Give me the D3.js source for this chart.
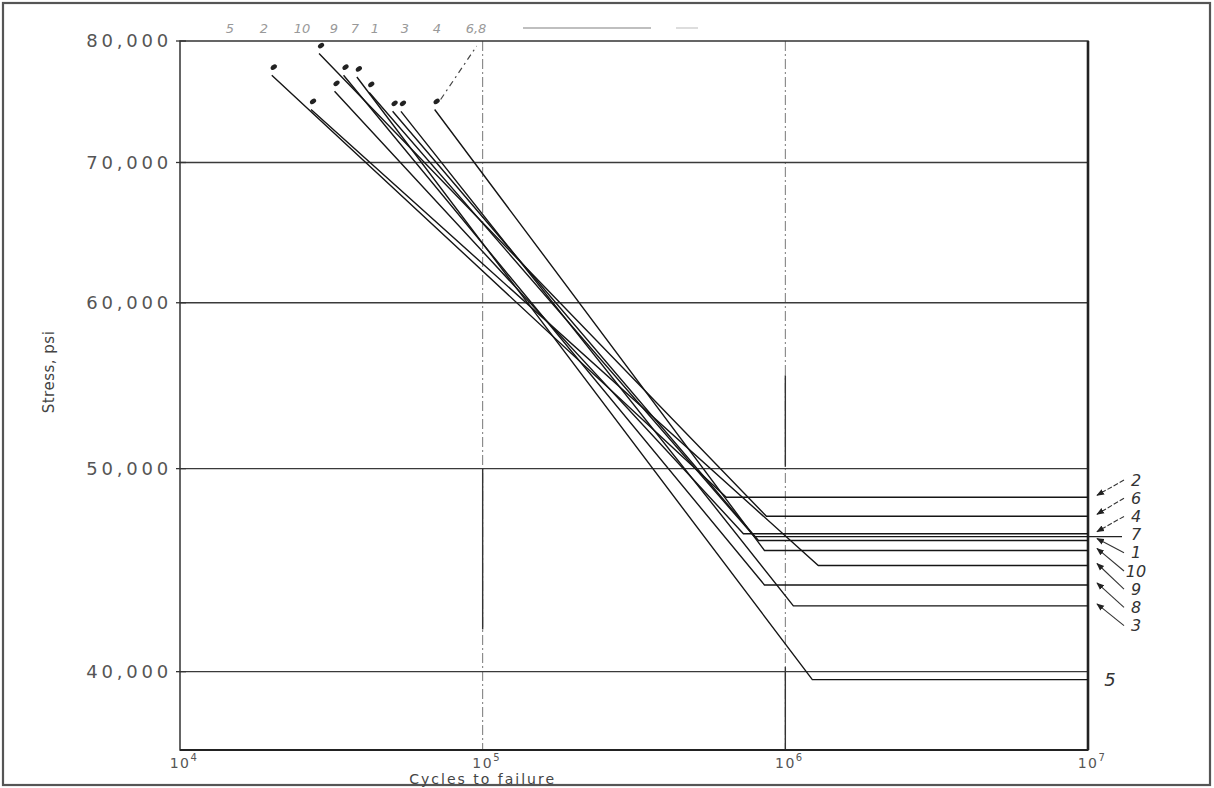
<!DOCTYPE html>
<html>
<head>
<meta charset="utf-8">
<script src="https://cdn.jsdelivr.net/npm/d3@7"></script>
<style>
  body { margin: 0; background: #fff; }
  text { font-family: "DejaVu Sans", sans-serif; }
</style>
</head>
<body>
<svg id="chart" width="1214" height="788"></svg>
<script>
// S-N curves, specimens 1..10 (log-log)
const curveIds        = [1, 2, 3, 4, 5, 6, 7, 8, 9, 10];
const startCycles     = [50400, 20100, 53700, 32400, 38400, 28800, 42200, 34700, 27100, 69400];
const startStress     = [74050, 77050, 74050, 75700, 76900, 78900, 75600, 77050, 74200, 74200];
const kneeCycles      = [815000, 638000, 1063000, 727000, 1228000, 866000, 790000, 853000, 1285000, 853000];
const enduranceStress = [46200, 48450, 43000, 46550, 39650, 47450, 46400, 44000, 44950, 45700];

const xTicks = [1e4, 1e5, 1e6, 1e7];
const yTicks = [80000, 70000, 60000, 50000, 40000];
const topLabels = ["5", "2", "10", "9", "7", "1", "3", "4", "6,8"];

// darker pieces of the vertical grid lines in the scan
const darkGridCycles = [1e5, 1e6, 1e6];
const darkGridFrom   = [50000, 55400, 40200];
const darkGridTo     = [41900, 50100, 36700];

const svg = d3.select("#chart");
const width = 1214, height = 788;

const x = d3.scaleLog().domain([1e4, 1e7]).range([180, 1088]);
const y = d3.scaleLog().domain([36700, 80000]).range([750, 41]);

// outer border
svg.append("rect")
    .attr("x", 3).attr("y", 3)
    .attr("width", width - 7).attr("height", height - 6)
    .attr("fill", "none")
    .attr("stroke", "#555")
    .attr("stroke-width", 2.2);

// vertical grid (dash-dot)
svg.selectAll(".vgrid")
    .data(xTicks.slice(1, -1))
    .enter()
    .append("line")
    .attr("class", "vgrid")
    .attr("x1", d => x(d)).attr("x2", d => x(d))
    .attr("y1", y(80000)).attr("y2", 750)
    .attr("stroke", "#777")
    .attr("stroke-width", 1)
    .attr("stroke-dasharray", "10,3,2,3");

svg.selectAll(".vdark")
    .data(darkGridCycles)
    .enter()
    .append("line")
    .attr("class", "vdark")
    .attr("x1", d => x(d)).attr("x2", d => x(d))
    .attr("y1", (d, i) => y(darkGridFrom[i]))
    .attr("y2", (d, i) => y(darkGridTo[i]))
    .attr("stroke", "#333")
    .attr("stroke-width", 1.4);

// horizontal grid
svg.selectAll(".hgrid")
    .data(yTicks.slice(1))
    .enter()
    .append("line")
    .attr("class", "hgrid")
    .attr("x1", x(1e4)).attr("x2", x(1e7))
    .attr("y1", d => y(d)).attr("y2", d => y(d))
    .attr("stroke", "#3a3a3a")
    .attr("stroke-width", 1.3);

// plot frame
svg.append("rect")
    .attr("x", x(1e4)).attr("y", y(80000))
    .attr("width", x(1e7) - x(1e4))
    .attr("height", 750 - y(80000))
    .attr("fill", "none")
    .attr("stroke", "#333")
    .attr("stroke-width", 1.5);
svg.append("line")
    .attr("x1", x(1e7)).attr("x2", x(1e7))
    .attr("y1", y(80000)).attr("y2", 750)
    .attr("stroke", "#222").attr("stroke-width", 2.6);
svg.append("line")
    .attr("x1", x(1e4)).attr("x2", x(1e7))
    .attr("y1", 750).attr("y2", 750)
    .attr("stroke", "#222").attr("stroke-width", 2);

// y ticks + labels
svg.selectAll(".ytick")
    .data(yTicks)
    .enter()
    .append("line")
    .attr("x1", x(1e4) - 4).attr("x2", x(1e4) + 6)
    .attr("y1", d => y(d)).attr("y2", d => y(d))
    .attr("stroke", "#333").attr("stroke-width", 1.3);

svg.selectAll(".ylab")
    .data(yTicks)
    .enter()
    .append("text")
    .attr("x", 172)
    .attr("y", d => y(d))
    .attr("dy", "0.36em")
    .attr("text-anchor", "end")
    .attr("font-size", 18)
    .attr("letter-spacing", "3.8px")
    .attr("fill", "#555")
    .text(d => d3.format(",")(d));

// x tick labels 10^n
const xl = svg.selectAll(".xlab")
    .data(xTicks)
    .enter()
    .append("text")
    .attr("x", d => x(d) + 4)
    .attr("y", 768)
    .attr("text-anchor", "middle")
    .attr("font-size", 14)
    .attr("letter-spacing", "1.5px")
    .attr("fill", "#555");
xl.append("tspan").text("10");
xl.append("tspan")
    .attr("dy", -7)
    .attr("font-size", 10)
    .text(d => Math.round(Math.log10(d)));

// axis titles
svg.append("text")
    .attr("x", x(1e5))
    .attr("y", 784)
    .attr("text-anchor", "middle")
    .attr("font-size", 14)
    .attr("letter-spacing", "2px")
    .attr("fill", "#444")
    .text("Cycles to failure");

svg.append("text")
    .attr("transform", "translate(54,372) rotate(-90)")
    .attr("text-anchor", "middle")
    .attr("font-size", 15)
    .attr("letter-spacing", "0.5px")
    .attr("fill", "#444")
    .text("Stress, psi");

// curves: start -> knee -> flat to 10^7
const curves = curveIds.map((id, i) => ({
    id: id,
    pts: [
        [startCycles[i], startStress[i]],
        [kneeCycles[i], enduranceStress[i]],
        [1e7, enduranceStress[i]]
    ]
}));

const line = d3.line()
    .x(d => x(d[0]))
    .y(d => y(d[1]));

svg.selectAll(".curve")
    .data(curves)
    .enter()
    .append("path")
    .attr("class", "curve")
    .attr("d", d => line(d.pts))
    .attr("fill", "none")
    .attr("stroke", "#151515")
    .attr("stroke-width", 1.4);

// start markers
svg.selectAll(".dot")
    .data(curves)
    .enter()
    .append("ellipse")
    .attr("cx", d => x(d.pts[0][0]) + 2)
    .attr("cy", d => y(d.pts[0][1]) - 8)
    .attr("rx", 3.4).attr("ry", 2.3)
    .attr("transform", d => `rotate(-35,${x(d.pts[0][0]) + 2},${y(d.pts[0][1]) - 8})`)
    .attr("fill", "#222");

// dashed leader from curve 10 marker up to the top row
const c10 = curves.find(c => c.id === 10);
svg.append("line")
    .attr("x1", x(c10.pts[0][0]) + 6).attr("y1", y(c10.pts[0][1]) - 10)
    .attr("x2", x(1e5) - 6).attr("y2", 46)
    .attr("stroke", "#444")
    .attr("stroke-width", 1.2)
    .attr("stroke-dasharray", "6,4,2,4");

// top row of faint hand labels
const topLabelX = [230, 264, 302, 334, 355, 375, 405, 437, 476];
svg.selectAll(".toplab")
    .data(topLabels)
    .enter()
    .append("text")
    .attr("x", (d, i) => topLabelX[i])
    .attr("y", 33)
    .attr("text-anchor", "middle")
    .attr("font-size", 13)
    .attr("font-style", "italic")
    .attr("fill", "#999")
    .text(d => d);
svg.append("line")
    .attr("x1", 523).attr("x2", 651).attr("y1", 28).attr("y2", 28)
    .attr("stroke", "#aaa").attr("stroke-width", 1.5);
svg.append("line")
    .attr("x1", 676).attr("x2", 698).attr("y1", 28).attr("y2", 28)
    .attr("stroke", "#bbb").attr("stroke-width", 1);

// right-hand labels with arrows
svg.append("defs").append("marker")
    .attr("id", "ah")
    .attr("viewBox", "0 0 10 10")
    .attr("refX", 9).attr("refY", 5)
    .attr("markerWidth", 7).attr("markerHeight", 7)
    .attr("orient", "auto")
    .append("path")
    .attr("d", "M0,1 L10,5 L0,9 Z")
    .attr("fill", "#222");

const rightSide = curves
    .filter(c => c.id !== 5)
    .sort((a, b) => b.pts[2][1] - a.pts[2][1]);

rightSide.forEach((c, i) => {
    const ly = 480 + i * 18.2;
    const lvl = y(c.pts[2][1]);
    if (c.id === 7) {
        svg.append("line")
            .attr("x1", x(1e7)).attr("x2", x(1e7) + 34)
            .attr("y1", lvl).attr("y2", lvl)
            .attr("stroke", "#222").attr("stroke-width", 1.3);
    } else {
        svg.append("line")
            .attr("x1", 1124).attr("y1", ly)
            .attr("x2", 1097).attr("y2", lvl - 2)
            .attr("stroke", "#333")
            .attr("stroke-width", 1.1)
            .attr("stroke-dasharray", i < 3 ? "5,2" : null)
            .attr("marker-end", "url(#ah)");
    }
    svg.append("text")
        .attr("x", 1136)
        .attr("y", ly)
        .attr("dy", "0.35em")
        .attr("text-anchor", "middle")
        .attr("font-size", 16)
        .attr("font-style", "italic")
        .attr("fill", "#333")
        .text(c.id);
});

const c5 = curves.find(c => c.id === 5);
svg.append("text")
    .attr("x", 1110)
    .attr("y", y(c5.pts[2][1]))
    .attr("dy", "0.35em")
    .attr("text-anchor", "middle")
    .attr("font-size", 18)
    .attr("font-style", "italic")
    .attr("fill", "#333")
    .text("5");
</script>
</body>
</html>
